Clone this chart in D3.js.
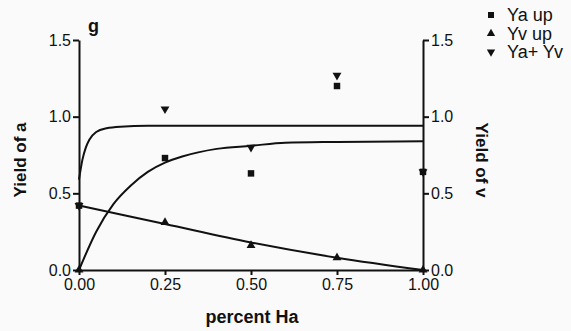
<!DOCTYPE html>
<html>
<head>
<meta charset="utf-8">
<script src="https://cdn.jsdelivr.net/npm/d3@7"></script>
<style>
	body{margin:0;background:#fafafa;}
	svg{font-family:Arial,"Liberation Sans",sans-serif;}
</style>
</head>
<body>
<svg id="g1" width="571" height="331"></svg>
<script>
// puntos medidos
var xs = [0, 0.25, 0.5, 0.75, 1.0];
var yaUp = [0.42, 0.73, 0.63, 1.20, 0.64];
var yvUp = [0.0, 0.31, 0.16, 0.08, 0.0];
var yaYv = [0.42, 1.05, 0.80, 1.27, 0.64];

// curvas ajustadas
var fit1X = [0, 0.01, 0.02, 0.03, 0.05, 0.08, 0.12, 0.2, 0.5, 1.0];
var fit1Y = [0.59, 0.72, 0.80, 0.85, 0.90, 0.925, 0.935, 0.94, 0.94, 0.94];
var fit2X = [0, 0.05, 0.1, 0.15, 0.2, 0.25, 0.3, 0.4, 0.5, 0.6, 0.75, 1.0];
var fit2Y = [0, 0.25, 0.43, 0.55, 0.64, 0.70, 0.74, 0.79, 0.81, 0.83, 0.835, 0.84];
var fit3X = [0, 0.25, 0.5, 0.75, 1.0];
var fit3Y = [0.42, 0.30, 0.18, 0.08, 0.0];

var xTicks = [0, 0.25, 0.5, 0.75, 1.0];
var yTicks = [0, 0.5, 1.0, 1.5];
var series = ["Ya up", "Yv up", "Ya+ Yv"];

var svg = d3.select('#g1');
var x = d3.scaleLinear().domain([0,1]).range([79,423]);
var y = d3.scaleLinear().domain([0,1.5]).range([270,40]);

function ejes(){
	svg.append("g").attr("class","ax").attr("transform","translate(0,270)")
		.call(d3.axisBottom(x).tickValues(xTicks).tickFormat(d3.format(".2f")).tickSize(5).tickPadding(4).tickSizeOuter(0));
	svg.append("g").attr("class","ax").attr("transform","translate(79,0)")
		.call(d3.axisLeft(y).tickValues(yTicks).tickFormat(d3.format(".1f")).tickSize(6).tickPadding(2).tickSizeOuter(0));
	svg.append("g").attr("class","ax").attr("transform","translate(423,0)")
		.call(d3.axisRight(y).tickValues(yTicks).tickFormat(d3.format(".1f")).tickSize(6).tickPadding(2).tickSizeOuter(0));
	svg.selectAll(".domain").attr("stroke","#111").attr("stroke-width",2);
	svg.selectAll(".tick line").attr("stroke","#111").attr("stroke-width",2);
	svg.selectAll(".tick text").attr("font-size",16).attr("fill","#111");
	svg.selectAll(".ax").attr("font-family",null);

	svg.append("text").attr("x",252).attr("y",323).attr("text-anchor","middle")
		.attr("font-size",18).attr("font-weight","bold").attr("fill","#111").text("percent Ha");
	svg.append("text").attr("transform","translate(26,160) rotate(-90)").attr("text-anchor","middle")
		.attr("font-size",17).attr("font-weight","bold").attr("fill","#111").text("Yield of a");
	svg.append("text").attr("transform","translate(476,160) rotate(90)").attr("text-anchor","middle")
		.attr("font-size",17).attr("font-weight","bold").attr("fill","#111").text("Yield of v");
	svg.append("text").attr("x",88).attr("y",32).attr("font-size",18).attr("font-weight","bold").attr("fill","#111").text("g");
}

function curvas(){
	var linea = d3.line().x(function(d){return x(d[0]);}).y(function(d){return y(d[1]);}).curve(d3.curveMonotoneX);
	[[fit1X,fit1Y],[fit2X,fit2Y],[fit3X,fit3Y]].forEach(function(c){
		svg.append("path")
			.attr("d",linea(d3.zip(c[0],c[1])))
			.attr("fill","none")
			.attr("stroke","#111")
			.attr("stroke-width",2);
	});
}

function puntos(){
	var sq = d3.symbol().type(d3.symbolSquare).size(42);
	var tri = d3.symbol().type(d3.symbolTriangle).size(34);
	var datos = [[yaUp,sq,0],[yvUp,tri,0],[yaYv,tri,180]];
	datos.forEach(function(s){
		svg.append("g").selectAll("path").data(d3.zip(xs,s[0])).enter().append("path")
			.attr("d",s[1])
			.attr("transform",function(d){return "translate("+x(d[0])+","+y(d[1])+") rotate("+s[2]+")";})
			.attr("fill","#111");
	});
}

function leyenda(){
	var sq = d3.symbol().type(d3.symbolSquare).size(36);
	var tri = d3.symbol().type(d3.symbolTriangle).size(30);
	var sym = [[sq,0],[tri,0],[tri,180]];
	for (var i = 0; i < series.length; i++) {
		svg.append("path").attr("d",sym[i][0])
			.attr("transform","translate(491,"+(15+18.5*i)+") rotate("+sym[i][1]+")")
			.attr("fill","#111");
		svg.append("text").attr("x",507).attr("y",21+18.5*i)
			.attr("font-size",18).attr("fill","#111").text(series[i]);
	}
}

ejes();
curvas();
puntos();
leyenda();
</script>
</body>
</html>
